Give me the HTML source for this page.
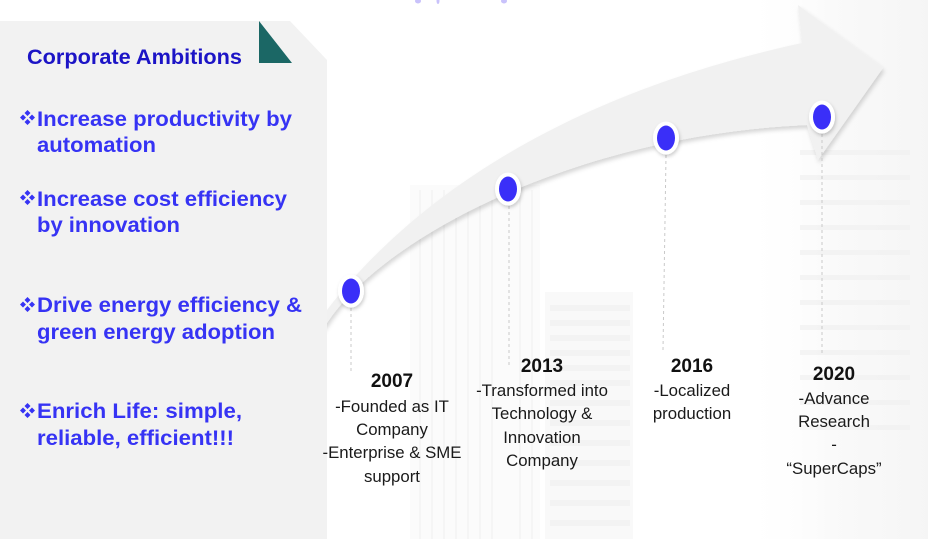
<!DOCTYPE html>
<html>
<head>
<meta charset="utf-8">
<style>
  html,body{margin:0;padding:0;background:#fff;}
  body{width:928px;height:539px;overflow:hidden;position:relative;}
  svg{position:absolute;left:0;top:0;}
  .lt{font-family:"Liberation Sans",Arial,sans-serif;font-weight:bold;font-size:21.5px;fill:#3633f4;}
  .tt{font-family:"Liberation Sans",Arial,sans-serif;font-weight:bold;font-size:21px;fill:#1c14c6;}
  .yr{font-family:"Liberation Sans",Arial,sans-serif;font-weight:bold;font-size:19px;fill:#111;}
  .bd{font-family:"Liberation Sans",Arial,sans-serif;font-size:16.8px;fill:#1a1a1a;}
</style>
</head>
<body>
<svg width="928" height="539" viewBox="0 0 928 539" xmlns="http://www.w3.org/2000/svg">
  <defs>
    <filter id="sh" x="-10%" y="-10%" width="130%" height="140%">
      <feDropShadow dx="1.5" dy="3" stdDeviation="2.2" flood-color="#000" flood-opacity="0.16"/>
    </filter>
    <filter id="dsh" x="-50%" y="-50%" width="200%" height="200%">
      <feDropShadow dx="1" dy="2" stdDeviation="1.8" flood-color="#000" flood-opacity="0.2"/>
    </filter>
    <linearGradient id="rg" x1="0" y1="0" x2="1" y2="0">
      <stop offset="0" stop-color="#ffffff" stop-opacity="0"/>
      <stop offset="0.5" stop-color="#f6f6f6" stop-opacity="0.6"/>
      <stop offset="1" stop-color="#f4f4f4" stop-opacity="0.9"/>
    </linearGradient>
  </defs>

  <!-- faint background buildings -->
  <rect x="410" y="185" width="130" height="354" fill="#fbfbfb"/>
  <g stroke="#f5f5f5" stroke-width="2">
    <line x1="420" y1="190" x2="420" y2="539"/>
    <line x1="432" y1="190" x2="432" y2="539"/>
    <line x1="444" y1="190" x2="444" y2="539"/>
    <line x1="456" y1="190" x2="456" y2="539"/>
    <line x1="468" y1="190" x2="468" y2="539"/>
    <line x1="480" y1="190" x2="480" y2="539"/>
    <line x1="492" y1="190" x2="492" y2="539"/>
    <line x1="520" y1="190" x2="520" y2="539"/>
    <line x1="532" y1="190" x2="532" y2="539"/>
  </g>
  <rect x="545" y="292" width="88" height="247" fill="#f9f9f9"/>
  <g fill="#f3f3f3">
    <rect x="550" y="305" width="80" height="6"/>
    <rect x="550" y="320" width="80" height="6"/>
    <rect x="550" y="335" width="80" height="6"/>
    <rect x="550" y="350" width="80" height="6"/>
    <rect x="550" y="365" width="80" height="6"/>
    <rect x="550" y="380" width="80" height="6"/>
    <rect x="550" y="400" width="80" height="6"/>
    <rect x="550" y="420" width="80" height="6"/>
    <rect x="550" y="440" width="80" height="6"/>
    <rect x="550" y="460" width="80" height="6"/>
    <rect x="550" y="480" width="80" height="6"/>
    <rect x="550" y="500" width="80" height="6"/>
    <rect x="550" y="520" width="80" height="6"/>
  </g>
  <rect x="740" y="0" width="188" height="539" fill="url(#rg)"/>
  <g fill="#f1f1f1" opacity="0.7">
    <rect x="800" y="150" width="110" height="5"/>
    <rect x="800" y="175" width="110" height="5"/>
    <rect x="800" y="200" width="110" height="5"/>
    <rect x="800" y="225" width="110" height="5"/>
    <rect x="800" y="250" width="110" height="5"/>
    <rect x="800" y="275" width="110" height="5"/>
    <rect x="800" y="300" width="110" height="5"/>
    <rect x="800" y="325" width="110" height="5"/>
    <rect x="800" y="350" width="110" height="5"/>
    <rect x="800" y="375" width="110" height="5"/>
    <rect x="800" y="400" width="110" height="5"/>
    <rect x="800" y="425" width="110" height="5"/>
  </g>

  <!-- faint top fragments -->
  <ellipse cx="418" cy="1" rx="3" ry="2.5" fill="#c9c2fb"/>
  <ellipse cx="438" cy="1" rx="1.5" ry="3" fill="#c9c2fb"/>
  <ellipse cx="504" cy="1" rx="3" ry="2.5" fill="#c9c2fb"/>

  <!-- arrow -->
  <path filter="url(#sh)" fill="#f1f1f1"
        d="M300,345 L327,310 C400,215 540,100 802,43 L798,5 L883,68 L818,160 L807,125 C580,135 385,235 327,323 L300,360 Z"/>

  <!-- dashed drop lines -->
  <g stroke="#c9c9c9" stroke-width="1" stroke-dasharray="3,3" fill="none">
    <line x1="351" y1="308" x2="351" y2="372"/>
    <line x1="509" y1="206" x2="509" y2="365"/>
    <line x1="666" y1="155" x2="663" y2="350"/>
    <line x1="822" y1="134" x2="822" y2="356"/>
  </g>

  <!-- dots -->
  <g>
    <ellipse cx="351" cy="291" rx="13" ry="16.5" fill="#fff" filter="url(#dsh)"/>
    <ellipse cx="351" cy="291" rx="9" ry="12.5" fill="#3a2ff8"/>
    <ellipse cx="508" cy="189" rx="13" ry="16.5" fill="#fff" filter="url(#dsh)"/>
    <ellipse cx="508" cy="189" rx="9" ry="12.5" fill="#3a2ff8"/>
    <ellipse cx="666" cy="138" rx="13" ry="16.5" fill="#fff" filter="url(#dsh)"/>
    <ellipse cx="666" cy="138" rx="9" ry="12.5" fill="#3a2ff8"/>
    <ellipse cx="822" cy="117" rx="13" ry="16.5" fill="#fff" filter="url(#dsh)"/>
    <ellipse cx="822" cy="117" rx="9" ry="12.5" fill="#3a2ff8"/>
  </g>

  <!-- left panel -->
  <path d="M0,21 L290,21 L327,60 L327,539 L0,539 Z" fill="#f2f2f2"/>
  <path d="M259,21 L259,63 L292,63 Z" fill="#1b6765"/>

  <text class="tt" x="27" y="64" textLength="215" lengthAdjust="spacingAndGlyphs">Corporate Ambitions</text>

  <!-- bullets -->
  <g fill="#3633f4">
    <g transform="translate(27.5,117.5)">
      <path d="M0,-7.5 L3,-4.5 L0,-1.5 L-3,-4.5Z M0,1.5 L3,4.5 L0,7.5 L-3,4.5Z M-7.5,0 L-4.5,-3 L-1.5,0 L-4.5,3Z M1.5,0 L4.5,-3 L7.5,0 L4.5,3Z"/>
    </g>
    <g transform="translate(27.5,197.5)">
      <path d="M0,-7.5 L3,-4.5 L0,-1.5 L-3,-4.5Z M0,1.5 L3,4.5 L0,7.5 L-3,4.5Z M-7.5,0 L-4.5,-3 L-1.5,0 L-4.5,3Z M1.5,0 L4.5,-3 L7.5,0 L4.5,3Z"/>
    </g>
    <g transform="translate(27.5,304.5)">
      <path d="M0,-7.5 L3,-4.5 L0,-1.5 L-3,-4.5Z M0,1.5 L3,4.5 L0,7.5 L-3,4.5Z M-7.5,0 L-4.5,-3 L-1.5,0 L-4.5,3Z M1.5,0 L4.5,-3 L7.5,0 L4.5,3Z"/>
    </g>
    <g transform="translate(27.5,410.5)">
      <path d="M0,-7.5 L3,-4.5 L0,-1.5 L-3,-4.5Z M0,1.5 L3,4.5 L0,7.5 L-3,4.5Z M-7.5,0 L-4.5,-3 L-1.5,0 L-4.5,3Z M1.5,0 L4.5,-3 L7.5,0 L4.5,3Z"/>
    </g>
  </g>

  <text class="lt" x="37" y="126" textLength="255" lengthAdjust="spacingAndGlyphs">Increase productivity by</text>
  <text class="lt" x="37" y="152" textLength="119" lengthAdjust="spacingAndGlyphs">automation</text>
  <text class="lt" x="37" y="206" textLength="250" lengthAdjust="spacingAndGlyphs">Increase cost efficiency</text>
  <text class="lt" x="37" y="232" textLength="143" lengthAdjust="spacingAndGlyphs">by innovation</text>
  <text class="lt" x="37" y="312" textLength="265" lengthAdjust="spacingAndGlyphs">Drive energy efficiency &amp;</text>
  <text class="lt" x="37" y="339" textLength="238" lengthAdjust="spacingAndGlyphs">green energy adoption</text>
  <text class="lt" x="37" y="418" textLength="205" lengthAdjust="spacingAndGlyphs">Enrich Life: simple,</text>
  <text class="lt" x="37" y="445" textLength="197" lengthAdjust="spacingAndGlyphs">reliable, efficient!!!</text>

  <!-- timeline text -->
  <g text-anchor="middle">
    <text class="yr" x="392" y="387">2007</text>
    <text class="bd" x="392" y="412">-Founded as IT</text>
    <text class="bd" x="392" y="435">Company</text>
    <text class="bd" x="392" y="458">-Enterprise &amp; SME</text>
    <text class="bd" x="392" y="482">support</text>

    <text class="yr" x="542" y="372">2013</text>
    <text class="bd" x="542" y="396">-Transformed into</text>
    <text class="bd" x="542" y="419">Technology &amp;</text>
    <text class="bd" x="542" y="443">Innovation</text>
    <text class="bd" x="542" y="466">Company</text>

    <text class="yr" x="692" y="372">2016</text>
    <text class="bd" x="692" y="396">-Localized</text>
    <text class="bd" x="692" y="419">production</text>

    <text class="yr" x="834" y="380">2020</text>
    <text class="bd" x="834" y="404">-Advance</text>
    <text class="bd" x="834" y="427">Research</text>
    <text class="bd" x="834" y="450">-</text>
    <text class="bd" x="834" y="474">“SuperCaps”</text>
  </g>
</svg>
</body>
</html>
